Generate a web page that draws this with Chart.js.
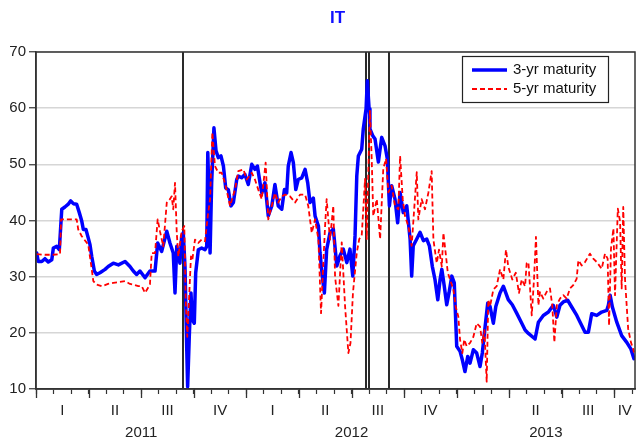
<!DOCTYPE html>
<html><head><meta charset="utf-8">
<script src="https://cdn.jsdelivr.net/npm/chart.js@4.4.1/dist/chart.umd.min.js"></script>
<style>html,body{margin:0;padding:0;background:#fff}canvas{display:block}</style>
</head><body>
<canvas id="c" width="636" height="439"></canvas>
<script>
const chartTitle = 'IT';
const seriesNames = ['3-yr maturity', '5-yr maturity'];
const quarterLabels = ['I','II','III','IV','I','II','III','IV','I','II','III','IV'];
const yearLabels = ['2011','2012','2013'];
const yTicks = [10,20,30,40,50,60,70];
const monthSpan = 34.17;               // months shown, counted from 1 Jan 2011
const eventMonths = [8.40, 18.81, 19.01, 20.15];

// 3-yr maturity: x = months since 1 Jan 2011
const months3y = [
0.04,0.13,0.33,0.51,0.70,0.90,0.99,1.18,1.33,1.47,
1.65,1.84,1.98,2.13,2.32,2.47,2.61,2.70,2.85,2.98,
3.08,3.18,3.33,3.46,3.65,3.94,4.12,4.41,4.70,5.08,
5.36,5.55,5.74,5.93,6.22,6.50,6.79,6.94,7.17,7.46,
7.64,7.83,7.93,8.03,8.21,8.31,8.40,8.50,8.60,8.65,
8.75,8.84,8.92,9.03,9.11,9.26,9.45,9.64,9.74,9.80,
9.87,9.93,10.02,10.15,10.27,10.40,10.55,10.69,10.82,10.97,
11.12,11.26,11.45,11.54,11.73,11.92,12.11,12.31,12.49,12.63,
12.78,12.88,13.06,13.25,13.45,13.63,13.82,14.02,14.17,14.30,
14.39,14.55,14.68,14.82,14.96,15.16,15.35,15.50,15.63,15.82,
15.92,16.11,16.20,16.33,16.45,16.58,16.77,16.96,17.16,17.34,
17.53,17.73,17.91,18.07,18.20,18.30,18.39,18.58,18.67,18.83,
18.90,19.00,19.05,19.21,19.34,19.53,19.72,19.91,20.04,20.16,
20.29,20.48,20.63,20.77,20.95,21.15,21.34,21.43,21.52,21.72,
21.91,22.10,22.29,22.44,22.61,22.76,22.92,23.05,23.15,23.29,
23.43,23.56,23.72,23.86,24.00,24.19,24.32,24.47,24.63,24.76,
24.95,25.14,25.33,25.46,25.62,25.77,25.90,26.09,26.23,26.47,
26.66,26.80,26.94,27.17,27.42,27.71,27.90,28.09,28.47,28.66,
28.94,29.23,29.51,29.71,29.89,30.08,30.33,30.56,30.85,31.13,
31.32,31.51,31.70,31.99,32.27,32.56,32.65,32.75,32.88,33.13,
33.41,33.70,33.94,34.11];
const yield3y = [
34.2,32.7,32.7,33.2,32.6,33.0,35.1,35.4,34.8,42.0,
42.4,42.9,43.5,43.0,42.9,41.4,39.9,38.4,38.4,36.9,
35.7,33.6,31.0,30.4,30.7,31.3,31.8,32.4,32.1,32.7,
31.8,31.0,30.4,31.0,29.8,31.0,31.0,36.0,34.5,38.1,
36.0,34.2,27.1,35.4,32.4,37.2,37.8,31.8,17.0,10.4,
19.9,27.1,22.3,21.7,30.7,34.8,35.1,34.8,35.4,52.1,
43.8,34.2,46.7,56.5,52.4,51.2,51.5,49.7,45.8,45.5,
42.6,43.2,47.3,47.9,47.6,48.2,46.4,50.0,49.1,49.7,
46.7,44.9,46.7,40.8,42.6,46.4,42.6,42.0,45.5,44.9,
49.7,52.1,50.3,45.5,47.3,47.6,49.1,46.7,43.2,44.0,
40.8,39.0,34.3,30.1,27.1,34.8,37.8,38.5,31.9,33.7,
34.9,32.5,34.9,30.1,37.3,48.0,51.5,52.7,56.3,59.9,
64.9,59.9,56.3,55.1,54.5,50.4,54.8,53.3,51.0,42.6,
46.2,43.8,39.6,45.0,41.4,42.6,36.7,30.1,35.5,36.7,
37.9,36.4,36.7,35.5,31.8,29.5,25.9,29.5,31.3,28.3,
25.0,27.1,30.1,28.9,17.6,16.7,15.2,13.1,15.8,14.6,
17.0,16.4,14.0,16.4,21.1,25.3,24.7,21.7,24.7,27.1,
28.3,27.1,25.9,25.0,23.5,21.7,20.5,19.9,18.9,21.9,
23.1,23.7,24.9,22.8,24.9,25.5,25.8,24.6,23.1,21.3,
20.1,20.1,23.4,23.1,23.7,24.0,24.9,26.7,24.6,21.9,
19.5,18.3,17.1,15.4];

// 5-yr maturity
const months5y = [
0.04,0.51,0.97,1.37,1.43,1.94,2.32,2.41,2.61,2.98,
3.18,3.27,3.46,3.75,4.11,4.41,4.68,5.08,5.36,5.55,
5.84,6.03,6.22,6.50,6.60,6.79,6.94,7.07,7.26,7.46,
7.64,7.74,7.83,7.93,8.03,8.12,8.31,8.46,8.54,8.63,
8.73,8.84,8.92,9.07,9.26,9.45,9.64,9.80,9.93,10.06,
10.21,10.40,10.59,10.78,11.07,11.35,11.54,11.83,12.02,12.31,
12.49,12.68,12.88,13.10,13.25,13.45,13.63,13.82,14.02,14.21,
14.49,14.78,15.06,15.35,15.53,15.73,15.92,16.11,16.26,16.39,
16.49,16.58,16.77,16.96,17.06,17.25,17.44,17.63,17.82,17.94,
18.08,18.30,18.44,18.58,18.67,18.77,18.87,18.96,19.05,19.15,
19.24,19.44,19.63,19.81,19.97,20.10,20.29,20.48,20.67,20.77,
20.92,21.05,21.24,21.43,21.56,21.72,21.81,22.00,22.19,22.38,
22.57,22.67,22.86,22.99,23.15,23.24,23.37,23.49,23.62,23.81,
23.94,24.09,24.19,24.32,24.43,24.57,24.76,24.95,25.14,25.33,
25.46,25.58,25.71,25.80,25.90,26.09,26.28,26.47,26.66,26.81,
26.94,27.17,27.37,27.55,27.71,27.90,27.99,28.09,28.28,28.41,
28.52,28.66,28.75,28.94,29.13,29.32,29.45,29.57,29.71,29.89,
30.08,30.27,30.46,30.65,30.84,30.94,31.13,31.32,31.60,31.79,
31.99,32.27,32.46,32.61,32.69,32.80,32.94,33.03,33.19,33.32,
33.41,33.50,33.60,33.78,33.94,34.07,34.11];
const yield5y = [
34.0,33.9,33.9,34.0,40.2,40.2,40.2,38.4,37.2,35.7,
31.3,29.2,28.6,28.3,28.7,28.9,29.0,29.2,28.7,28.6,
28.3,28.3,27.1,28.6,34.2,34.2,40.2,38.1,35.4,43.2,
43.8,44.3,42.0,46.7,37.8,33.6,38.1,39.0,25.9,19.3,
25.9,33.6,33.0,36.6,36.0,36.6,36.3,40.8,43.8,55.7,
49.7,48.5,48.5,46.7,42.6,45.5,48.8,49.1,47.3,48.5,
47.3,45.5,43.8,50.3,40.2,42.6,44.9,43.2,44.3,44.6,
44.3,43.2,44.6,44.6,42.6,37.8,40.2,36.6,23.5,32.4,
39.0,43.8,36.6,42.6,30.0,24.8,36.1,24.8,16.4,18.2,
27.1,34.3,36.7,37.3,42.0,47.4,36.7,49.2,59.5,51.0,
40.8,43.8,36.7,49.2,51.0,45.0,46.2,42.6,42.0,51.5,
43.8,40.8,39.0,35.5,41.4,48.6,40.2,43.8,42.0,44.9,
48.8,36.6,32.4,34.8,31.8,37.8,34.2,30.7,29.5,27.7,
24.7,22.9,18.8,16.4,18.8,17.6,18.2,19.3,21.7,21.1,
18.2,20.5,11.3,25.9,24.7,27.7,28.3,31.3,29.5,34.8,
31.8,29.5,30.7,27.1,29.5,28.3,32.4,32.6,23.1,29.6,
37.1,24.9,27.3,26.1,27.3,27.9,24.9,18.3,24.9,26.1,
26.7,26.1,27.9,28.5,29.6,32.9,32.0,32.6,34.1,33.2,
32.6,31.4,34.1,33.2,21.3,35.0,38.6,26.7,42.1,39.8,
27.9,42.4,29.6,20.7,18.3,17.1,16.5];

const FONT = "'Liberation Sans', Arial, sans-serif";
const TXT = '#222';

const toPts = (xs, ys) => xs.map((x, i) => ({x, y: ys[i]}));

const quarterCenters = quarterLabels.map((_, q) => q < quarterLabels.length - 1 ? q * 3 + 1.5 : (q * 3 + monthSpan) / 2);
const yearCenters = yearLabels.map((_, k) => (k * 12 + Math.min(k * 12 + 12, monthSpan)) / 2);

const framePlugin = {
  id: 'frame',
  beforeDatasetsDraw(chart) {
    const {ctx, chartArea: a, scales: {x}} = chart;
    ctx.save();
    ctx.strokeStyle = '#2a2a2a';
    ctx.lineWidth = 2;
    eventMonths.forEach(m => {
      const px = Math.round(x.getPixelForValue(m));
      ctx.beginPath(); ctx.moveTo(px, a.top); ctx.lineTo(px, a.bottom); ctx.stroke();
    });
    ctx.restore();
  },
  afterDraw(chart) {
    const {ctx, chartArea: a, scales: {x}} = chart;
    ctx.save();
    ctx.strokeStyle = '#333';
    ctx.lineWidth = 1.5;
    ctx.strokeRect(a.left, a.top, a.right - a.left, a.bottom - a.top);
    // longer ticks at quarter boundaries
    ctx.lineWidth = 1.3;
    for (let m = 0; m <= monthSpan; m += 3) {
      const px = Math.round(x.getPixelForValue(m)) + 0.5;
      ctx.beginPath(); ctx.moveTo(px, a.bottom); ctx.lineTo(px, a.bottom + 9); ctx.stroke();
    }
    // title
    ctx.fillStyle = '#1010ff';
    ctx.font = 'bold 17px ' + FONT;
    ctx.textAlign = 'center';
    ctx.textBaseline = 'middle';
    ctx.fillText(chartTitle, (a.left + a.right) / 2 + 2, 18);
    // legend
    const bw = 146, bh = 46;
    const bx = a.right - 27 - bw, by = a.top + 4;
    ctx.fillStyle = '#fff';
    ctx.fillRect(bx, by, bw, bh);
    ctx.strokeStyle = '#222';
    ctx.lineWidth = 1.2;
    ctx.strokeRect(bx + 0.5, by + 0.5, bw, bh);
    chart.data.datasets.forEach((ds, i) => {
      const yy = by + 14 + i * 19;
      ctx.strokeStyle = ds.borderColor;
      ctx.lineWidth = ds.borderWidth;
      ctx.setLineDash(ds.borderDash || []);
      ctx.beginPath(); ctx.moveTo(bx + 10, yy); ctx.lineTo(bx + 45, yy); ctx.stroke();
      ctx.setLineDash([]);
      ctx.fillStyle = '#111';
      ctx.font = '15px ' + FONT;
      ctx.textAlign = 'left';
      ctx.fillText(ds.label, bx + 51, yy);
    });
    ctx.restore();
  }
};

const noSidePad = s => { s.paddingLeft = 0; s.paddingRight = 0; };

new Chart(document.getElementById('c'), {
  type: 'line',
  data: {
    datasets: [
      {label: seriesNames[0], data: toPts(months3y, yield3y), borderColor: '#0000ff', borderWidth: 3.5,
       pointRadius: 0, tension: 0, borderJoinStyle: 'round', borderCapStyle: 'round', order: 2},
      {label: seriesNames[1], data: toPts(months5y, yield5y), borderColor: '#ff0000', borderWidth: 1.8,
       borderDash: [5, 3], pointRadius: 0, tension: 0, borderJoinStyle: 'round', order: 1}
    ]
  },
  options: {
    responsive: false,
    devicePixelRatio: 1,
    animation: false,
    layout: {padding: {top: 52, right: 1, left: 0, bottom: 0}},
    plugins: {legend: {display: false}, title: {display: false}, tooltip: {enabled: false}},
    scales: {
      x: {
        type: 'linear', position: 'bottom', min: 0, max: monthSpan,
        afterFit: s => { s.height = 31; noSidePad(s); },
        afterBuildTicks: s => {
          const vals = [];
          for (let m = 0; m <= Math.floor(monthSpan); m++) vals.push(m);
          quarterCenters.forEach(v => vals.push(v));
          vals.sort((a, b) => a - b);
          s.ticks = vals.map(v => ({value: v}));
        },
        ticks: {
          autoSkip: false, maxRotation: 0, padding: 8, color: TXT,
          font: {family: FONT, size: 15},
          callback: v => { const k = quarterCenters.indexOf(v); return k >= 0 ? quarterLabels[k] : ''; }
        },
        grid: {drawOnChartArea: false, tickLength: 5,
               tickColor: c => (c.tick && Number.isInteger(c.tick.value)) ? '#333' : 'rgba(0,0,0,0)', tickWidth: 1.2},
        border: {display: true, color: '#333', width: 1.5}
      },
      xYear: {
        type: 'linear', position: 'bottom', min: 0, max: monthSpan,
        afterFit: s => { s.height = 19; noSidePad(s); },
        afterBuildTicks: s => { s.ticks = yearCenters.map(v => ({value: v})); },
        ticks: {autoSkip: false, maxRotation: 0, padding: 4, color: TXT, font: {family: FONT, size: 15},
                callback: v => { const k = yearCenters.indexOf(v); return k >= 0 ? yearLabels[k] : ''; }},
        grid: {display: false, drawTicks: false},
        border: {display: false}
      },
      y: {
        type: 'linear', min: 10, max: 70,
        afterFit: s => { s.width = 36; },
        afterBuildTicks: s => { s.ticks = yTicks.map(v => ({value: v})); },
        ticks: {padding: 3, color: TXT, font: {family: FONT, size: 15}},
        grid: {color: '#d6d6d6', lineWidth: 1.5, tickLength: 7, tickColor: '#333', tickWidth: 1.2},
        border: {display: true, color: '#333', width: 1.5}
      }
    }
  },
  plugins: [framePlugin]
});
</script>
</body></html>
